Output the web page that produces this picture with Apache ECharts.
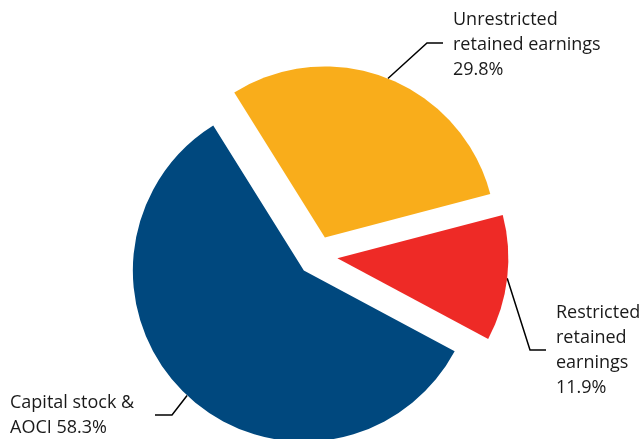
<!DOCTYPE html>
<html>
<head>
<meta charset="utf-8">
<script src="https://cdn.jsdelivr.net/npm/echarts@6/dist/echarts.min.js"></script>
<style>
  html, body { margin: 0; padding: 0; background: #ffffff; }
  #chart { width: 642px; height: 439px; }
</style>
</head>
<body>
<div id="chart"></div>
<script>
// Equity composition (percent of total)
const names = ['Unrestricted\nretained earnings', 'Restricted\nretained\nearnings', 'Capital stock &\nAOCI'];
const values = [29.8, 11.9, 58.3];
const valueJoin = ['\n', '\n', ' '];
const colors = ['#F9AD1B', '#EE2A26', '#00487E'];

// Pie geometry
const baseCenter = [317.5, 256];
const pieRadius = 171;
const startAngle = 122;
const explode = 20;

// Where each callout label sits and how its leader line bends
const callouts = [
  { x: 453, y: 45,  lineY: 43,  elbowX: 427, endX: 443 },
  { x: 556, y: 350, lineY: 350, elbowX: 530, endX: 546 },
  { x: 10,  y: 415, lineY: 415, elbowX: 172, endX: 155 }
];

const total = values.reduce((a, b) => a + b, 0);

// Each slice is pulled out from the centre along its own bisector
function sliceCenter(k) {
  let before = 0;
  for (let i = 0; i < k; i++) before += values[i];
  const mid = (startAngle - (before + values[k] / 2) / total * 360) * Math.PI / 180;
  return [baseCenter[0] + explode * Math.cos(mid), baseCenter[1] - explode * Math.sin(mid)];
}

function labelText(i) {
  return names[i] + valueJoin[i] + values[i].toFixed(1) + '%';
}

const labelFont = {
  fontFamily: '"Open Sans", "Liberation Sans", sans-serif',
  fontSize: 18,
  lineHeight: 25,
  color: '#1a1a1a'
};

function sliceSeries(k) {
  return {
    type: 'pie',
    center: sliceCenter(k),
    radius: pieRadius,
    startAngle: startAngle,
    clockwise: true,
    silent: true,
    animation: false,
    avoidLabelOverlap: false,
    label: { show: false, position: 'outside' },
    labelLine: { show: false },
    itemStyle: { borderWidth: 0 },
    data: values.map((v, i) => ({
      name: names[i],
      value: v,
      itemStyle: { color: i === k ? colors[i] : 'rgba(0,0,0,0)' },
      label: i === k
        ? Object.assign({ show: true, position: 'outside', formatter: labelText(i), width: 200, overflow: 'none' }, labelFont)
        : { show: false },
      labelLine: i === k
        ? { show: true, length: 10, length2: 10, lineStyle: { color: '#000000', width: 1.5 } }
        : { show: false }
    })),
    labelLayout: function (params) {
      if (params.dataIndex !== k || !params.labelLinePoints) return {};
      const c = callouts[k];
      const anchor = params.labelLinePoints[0];
      return {
        x: c.x,
        y: c.y,
        align: 'left',
        verticalAlign: 'middle',
        labelLinePoints: [anchor, [c.elbowX, c.lineY], [c.endX, c.lineY]]
      };
    }
  };
}

const chart = echarts.init(document.getElementById('chart'), null, { renderer: 'canvas' });
chart.setOption({
  backgroundColor: '#ffffff',
  animation: false,
  series: values.map((v, k) => sliceSeries(k))
});
</script>
</body>
</html>
